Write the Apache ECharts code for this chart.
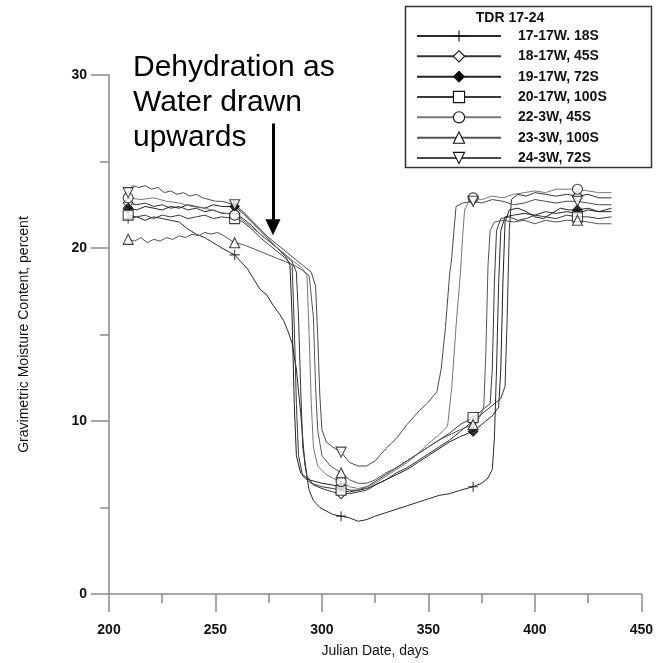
<!DOCTYPE html>
<html><head><meta charset="utf-8">
<script src="https://cdn.jsdelivr.net/npm/echarts@6/dist/echarts.min.js"></script>
<style>html,body{margin:0;padding:0;background:#fff}#c{width:656px;height:663px}</style>
</head><body><div id="c"></div><script>
// ---- data ----
const seriesNames = ['17-17W. 18S','18-17W, 45S','19-17W, 72S','20-17W, 100S','22-3W, 45S','23-3W, 100S','24-3W, 72S'];
const s17 = [[209,21.7],[213,21.8],[217,21.6],[221,21.8],[225,21.7],[229,21.6],[233,21.5],[237,21.1],[241,20.8],[245,20.6],[249,20.3],[253,20.0],[256,19.8],[259,19.6],[262,19.2],[265,18.8],[268,18.2],[271,17.6],[274,17.3],[277,16.7],[280,16.2],[282,15.8],[284,15.2],[286,14.5],[288,13.0],[290,10.5],[292,7.5],[294,6.0],[296,5.4],[299,5.0],[302,4.8],[305,4.6],[309,4.5],[313,4.4],[317,4.2],[321,4.3],[325,4.5],[330,4.7],[335,4.9],[340,5.1],[345,5.3],[350,5.5],[355,5.7],[360,5.8],[365,6.0],[371,6.2],[375,6.4],[378,6.7],[380,7.2],[381,9.0],[382,13.0],[383,18.0],[384,21.0],[386,21.8],[390,21.9],[395,22.0],[400,21.9],[405,22.1],[410,22.0],[415,22.1],[420,22.0],[425,22.2],[430,22.1],[436,22.3]];
const s18 = [[209,22.6],[213,22.5],[217,22.6],[221,22.4],[225,22.5],[229,22.3],[233,22.4],[237,22.2],[241,22.3],[245,22.1],[249,22.2],[253,22.0],[259,22.0],[263,21.7],[267,21.3],[271,20.8],[275,20.4],[279,20.0],[283,19.6],[286,19.2],[288,18.6],[289,16.0],[290,12.0],[291,8.5],[293,6.8],[296,6.3],[300,6.1],[305,5.9],[309,5.8],[313,5.8],[317,5.9],[321,6.0],[325,6.3],[330,6.6],[335,7.0],[340,7.3],[345,7.7],[350,8.1],[355,8.5],[360,8.9],[365,9.4],[371,10.0],[375,10.4],[380,10.9],[384,11.3],[386,12.0],[387,16.0],[388,21.0],[389,22.8],[392,23.1],[396,23.0],[400,23.2],[405,23.1],[410,23.0],[415,23.1],[420,23.0],[425,23.1],[430,22.9],[436,22.9]];
const s19 = [[209,22.3],[213,22.2],[217,22.4],[221,22.3],[225,22.2],[229,22.4],[233,22.3],[237,22.5],[241,22.4],[245,22.3],[249,22.5],[253,22.4],[259,22.4],[263,22.0],[267,21.5],[271,21.0],[275,20.5],[279,20.0],[283,19.5],[285,19.0],[286,16.0],[287,11.0],[288,8.0],[290,7.0],[294,6.6],[300,6.4],[305,6.3],[309,6.2],[313,6.0],[317,6.0],[321,6.1],[325,6.3],[330,6.6],[335,6.9],[340,7.2],[345,7.6],[350,8.0],[355,8.4],[360,8.8],[365,9.1],[371,9.4],[375,9.8],[380,10.3],[383,10.8],[384,13.0],[385,18.0],[386,21.5],[388,22.2],[392,22.3],[396,22.1],[400,21.8],[404,21.7],[408,22.0],[412,22.3],[416,22.2],[420,22.2],[425,22.3],[430,22.1],[436,22.1]];
const s20 = [[209,21.9],[213,21.8],[217,21.9],[221,21.7],[225,21.9],[229,21.8],[233,21.9],[237,21.7],[241,21.8],[245,21.9],[249,21.7],[253,21.8],[259,21.7],[263,21.5],[267,21.1],[271,20.6],[275,20.2],[279,19.8],[283,19.4],[286,19.0],[287,15.5],[288,11.0],[289,8.0],[291,6.8],[295,6.4],[300,6.2],[305,6.1],[309,6.0],[313,5.9],[317,6.0],[321,6.2],[325,6.5],[330,6.9],[335,7.3],[340,7.7],[345,8.1],[350,8.5],[355,8.9],[360,9.3],[365,9.8],[371,10.2],[375,10.6],[379,11.0],[380,13.0],[381,18.0],[382,21.0],[384,21.7],[388,21.8],[392,21.6],[396,21.7],[400,21.9],[405,21.8],[410,21.7],[415,21.9],[420,21.8],[425,21.8],[430,21.7],[436,21.8]];
const s22 = [[209,22.9],[215,22.8],[221,22.9],[227,22.7],[233,22.6],[239,22.4],[245,22.3],[251,22.1],[255,22.0],[259,21.9],[263,21.6],[267,21.2],[271,20.8],[275,20.4],[279,20.0],[283,19.6],[287,19.2],[291,18.8],[293,18.4],[294,15.0],[295,11.0],[296,8.5],[298,7.4],[302,6.9],[305,6.7],[309,6.5],[313,6.2],[317,6.1],[321,6.2],[325,6.4],[330,6.8],[335,7.2],[340,7.6],[345,8.1],[350,8.7],[355,9.2],[359,9.7],[361,12.0],[363,15.5],[365,18.5],[366,20.5],[367,22.2],[369,22.7],[371,22.9],[375,22.8],[380,23.0],[385,22.9],[390,23.1],[395,23.2],[400,23.3],[405,23.2],[410,23.4],[415,23.4],[420,23.4],[425,23.3],[430,23.2],[436,23.2]];
const s23 = [[209,20.5],[212,20.4],[215,20.6],[218,20.3],[221,20.5],[224,20.4],[227,20.6],[230,20.5],[233,20.7],[236,20.6],[239,20.8],[242,20.7],[245,20.9],[248,20.8],[251,20.9],[254,20.7],[259,20.3],[263,20.2],[267,20.0],[271,19.8],[275,19.6],[279,19.4],[283,19.2],[287,19.0],[291,18.7],[294,18.4],[296,16.0],[297,12.0],[298,9.5],[300,8.0],[304,7.4],[309,7.0],[313,6.6],[317,6.4],[321,6.4],[325,6.6],[330,7.0],[335,7.3],[340,7.7],[345,8.1],[350,8.5],[355,8.9],[360,9.2],[365,9.5],[371,9.8],[374,10.2],[376,10.8],[377,14.0],[378,19.0],[379,21.0],[381,21.5],[385,21.6],[390,21.5],[395,21.6],[400,21.4],[405,21.6],[410,21.5],[415,21.6],[420,21.6],[425,21.5],[430,21.4],[436,21.4]];
const s24 = [[209,23.2],[211,23.6],[214,23.5],[217,23.6],[220,23.4],[223,23.5],[226,23.2],[229,23.3],[232,23.1],[235,23.2],[238,23.0],[241,23.1],[244,22.9],[247,22.8],[250,22.7],[253,22.7],[256,22.6],[259,22.5],[263,22.1],[267,21.6],[271,21.1],[275,20.6],[279,20.2],[283,19.8],[287,19.4],[291,19.0],[295,18.6],[297,17.8],[298,15.0],[299,11.5],[300,9.5],[302,8.8],[305,8.5],[309,8.2],[313,7.6],[317,7.4],[321,7.4],[325,7.7],[330,8.4],[335,9.0],[340,9.8],[345,10.5],[350,11.1],[354,11.7],[356,13.0],[358,15.4],[360,18.5],[361,19.5],[362,21.0],[363,22.4],[366,22.6],[371,22.7],[375,22.6],[380,22.8],[385,22.7],[390,22.5],[395,22.6],[400,22.8],[405,22.7],[410,22.6],[415,22.7],[420,22.7],[425,22.6],[430,22.5],[436,22.5]];
const allSeries = [s17, s18, s19, s20, s22, s23, s24];
const markerDays = [209, 259, 309, 371, 420];
const xTicks = {min: 200, max: 450, step: 50};
const yTicks = {min: 0, max: 30, step: 10};
const legendTitle = 'TDR 17-24';
const noteLines = ['Dehydration as', 'Water drawn', 'upwards'];
const arrowDay = 277, arrowTop = 27.2, arrowEnd = 21.2;

// ---- styles ----
const FONT = '"Liberation Sans", Arial, sans-serif';
const symbols = ['path://M5,0L5,10M0,5L10,5','diamond','diamond','rect','circle','triangle','path://M0,0L10,0L5,9Z'];
const filled = [false,false,true,false,false,false,false];
const lineColors = ['#2a2a2a','#333','#222','#3a3a3a','#777','#555','#4a4a4a'];
const mStyle = i => filled[i] ? {color:'#000', borderColor:'#000', borderWidth:1}
                              : {color:'#fff', borderColor:'#111', borderWidth:1.1};

const series = [];
allSeries.forEach((d, i) => {
  series.push({
    name: seriesNames[i], type: 'line', data: d, symbol: symbols[i], showSymbol: false,
    lineStyle: {color: lineColors[i], width: 1}, itemStyle: mStyle(i), z: 2,
    silent: true, animation: false
  });
});
allSeries.forEach((d, i) => {
  series.push({
    name: 'm' + i, type: 'scatter', data: d.filter(p => markerDays.includes(p[0])),
    symbol: symbols[i], symbolSize: 10, itemStyle: mStyle(i), z: 5, silent: true, animation: false
  });
});
series[0].markLine = {
  silent: true, symbol: ['none', 'triangle'], symbolSize: [15, 16], animation: false,
  label: {show: false}, lineStyle: {color: '#000', width: 3, type: 'solid'},
  emphasis: {disabled: true},
  data: [[{coord: [arrowDay, arrowTop]}, {coord: [arrowDay, arrowEnd]}]]
};

const axisGray = '#8a8a8a';
const chart = echarts.init(document.getElementById('c'), null, {renderer: 'canvas'});
chart.setOption({
  animation: false,
  backgroundColor: '#fff',
  grid: {left: 109, right: 13, top: 75, bottom: 69},
  xAxis: {
    type: 'value', min: xTicks.min, max: xTicks.max, interval: xTicks.step,
    name: 'Julian Date, days', nameLocation: 'middle', nameGap: 50,
    nameTextStyle: {fontFamily: FONT, fontSize: 14, color: '#111'},
    axisLine: {show: true, onZero: false, lineStyle: {color: axisGray, width: 1.5}},
    axisTick: {show: true, length: 18, lineStyle: {color: axisGray, width: 1.5}},
    minorTick: {show: true, splitNumber: 2, length: 9, lineStyle: {color: axisGray, width: 1.5}},
    splitLine: {show: false},
    axisLabel: {fontFamily: FONT, fontSize: 14, fontWeight: 'bold', color: '#111', margin: 29}
  },
  yAxis: {
    type: 'value', min: yTicks.min, max: yTicks.max, interval: yTicks.step,
    name: 'Gravimetric Moisture Content, percent', nameLocation: 'middle', nameGap: 78,
    nameTextStyle: {fontFamily: FONT, fontSize: 14, color: '#111'},
    axisLine: {show: true, onZero: false, lineStyle: {color: axisGray, width: 1.5}},
    axisTick: {show: true, length: 18, lineStyle: {color: axisGray, width: 1.5}},
    minorTick: {show: true, splitNumber: 2, length: 9, lineStyle: {color: axisGray, width: 1.5}},
    splitLine: {show: false},
    axisLabel: {fontFamily: FONT, fontSize: 14, fontWeight: 'bold', color: '#111', margin: 22}
  },
  legend: {
    orient: 'vertical', left: 416, top: 29, padding: 0,
    itemWidth: 84, itemHeight: 14, itemGap: 6.33, selectedMode: false,
    textStyle: {fontFamily: FONT, fontSize: 14, fontWeight: 'bold', color: '#111', lineHeight: 14, padding: [0, 0, 0, 12]},
    data: seriesNames.map((n, i) => ({name: n, itemStyle: mStyle(i)}))
  },
  graphic: [
    {type: 'rect', shape: {x: 405.5, y: 6.5, width: 246, height: 161},
     style: {fill: 'none', stroke: '#333', lineWidth: 1.5}, silent: true},
    {type: 'text', x: 510, y: 11, style: {text: legendTitle, font: 'bold 14px ' + FONT, fill: '#111', align: 'center', verticalAlign: 'top'}, silent: true},
    {type: 'text', x: 133, y: 50, style: {text: noteLines.join('\n'), font: '30px ' + FONT, fill: '#000', lineHeight: 35, verticalAlign: 'top'}, silent: true}
  ],
  series: series
});
</script></body></html>
